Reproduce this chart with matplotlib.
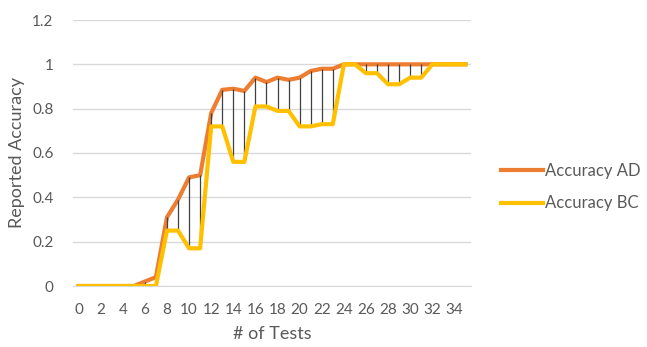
import matplotlib.pyplot as plt

tests = list(range(36))
accuracy_ad = [0, 0, 0, 0, 0, 0, 0.02, 0.04, 0.31, 0.39, 0.49, 0.50,
               0.78, 0.885, 0.89, 0.88, 0.94, 0.92, 0.94, 0.93, 0.94, 0.97,
               0.98, 0.98, 1, 1, 1, 1, 1, 1, 1, 1, 1, 1, 1, 1]
accuracy_bc = [0, 0, 0, 0, 0, 0, 0, 0, 0.25, 0.25, 0.17, 0.17,
               0.72, 0.72, 0.56, 0.56, 0.81, 0.81, 0.79, 0.79, 0.72, 0.72,
               0.73, 0.73, 1, 1, 0.96, 0.96, 0.91, 0.91, 0.94, 0.94, 1, 1, 1, 1]

plt.rcParams['font.family'] = ['Lato', 'DejaVu Sans']
text_color = '#595959'

fig = plt.figure(figsize=(6.47, 3.47), dpi=100)
ax = fig.add_axes([73 / 647, 1 - 286 / 347, 398 / 647, 266 / 347])

ax.plot(tests, accuracy_ad, color='#ED7D31', lw=3, label='Accuracy AD', zorder=3)
# high-low lines between the two series
ax.vlines(tests, accuracy_bc, accuracy_ad, color='#404040', lw=0.9, zorder=4)
ax.plot(tests, accuracy_bc, color='#FFC000', lw=3, label='Accuracy BC', zorder=5)

ax.set_xlim(-0.5, 35.5)
ax.set_ylim(0, 1.2)
ax.set_xticks(range(0, 36, 2))
ax.set_yticks([0, 0.2, 0.4, 0.6, 0.8, 1, 1.2])
ax.set_yticklabels(['0', '0.2', '0.4', '0.6', '0.8', '1', '1.2'])
ax.grid(axis='y', color='#D9D9D9', lw=1)
ax.set_axisbelow(True)
for s in ['top', 'right', 'left']:
    ax.spines[s].set_visible(False)
ax.spines['bottom'].set_color('#D9D9D9')
ax.tick_params(length=0, labelsize=11, colors=text_color)
ax.tick_params(axis='x', pad=12)
ax.tick_params(axis='y', pad=14)

ax.set_xlabel('# of Tests', fontsize=13, color=text_color, labelpad=7)
ax.set_ylabel('Reported Accuracy', fontsize=13, color=text_color, labelpad=5)

ax.legend(loc='center left', bbox_to_anchor=(1.075, 0.372), frameon=False,
          fontsize=12, labelcolor=text_color, handlelength=2.5, handletextpad=0.15,
          labelspacing=1.0, borderpad=0, borderaxespad=0)

fig.savefig('out.png', dpi=100)
